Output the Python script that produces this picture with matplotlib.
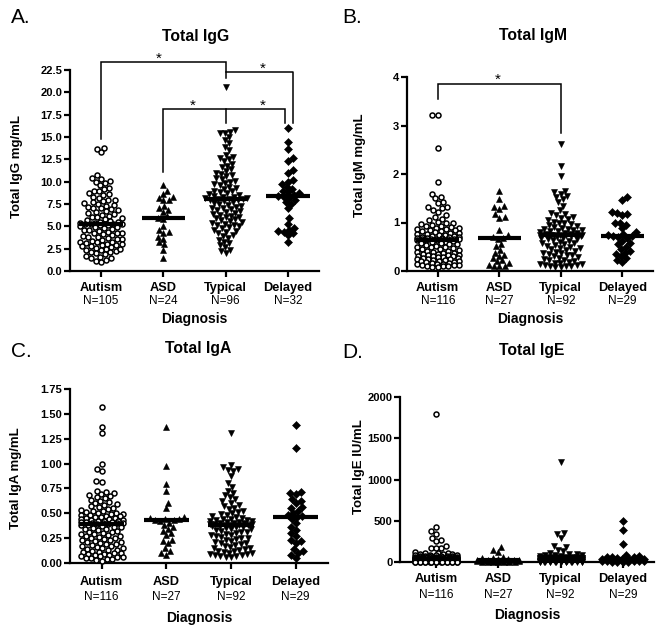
import numpy as np
import matplotlib
matplotlib.use('Agg')
import matplotlib.pyplot as plt

plt.rcParams['font.family'] = ['Liberation Sans', 'DejaVu Sans']

# ---------------- data ----------------
categories = ['Autism', 'ASD', 'Typical', 'Delayed']

igg_n = ['N=105', 'N=24', 'N=96', 'N=32']
igg_autism = [13.8, 13.7, 13.3,
              10.7, 10.4, 10.3, 10.1, 10.0, 9.8, 9.6, 9.3, 9.2, 9.0,
              8.9, 8.7, 8.6, 8.5, 8.3, 8.2, 8.0, 7.9, 7.8, 7.7, 7.6, 7.5, 7.4, 7.3,
              7.2, 7.1, 7.0, 6.9, 6.8, 6.7, 6.6, 6.5, 6.4, 6.3, 6.2, 6.1, 6.0, 5.9,
              5.8, 5.7, 5.6, 5.5, 5.45, 5.4, 5.35, 5.3, 5.3, 5.28, 5.26, 5.25,
              5.2, 5.1, 5.0, 4.9, 4.8, 4.7, 4.6, 4.5, 4.4, 4.3, 4.2, 4.1, 4.0, 3.9,
              3.8, 3.7, 3.6, 3.5, 3.4, 3.3, 3.2, 3.1, 3.0, 4.95, 4.55, 4.25, 3.85,
              3.55, 3.25, 3.05, 2.9, 2.8, 2.7, 2.6, 2.5, 2.4, 2.3, 2.2, 2.1, 2.0,
              2.95, 2.75, 2.45, 2.15, 1.9, 1.7, 1.6, 1.5, 1.4, 1.2, 1.1, 1.0]
igg_asd = [9.6, 9.0, 8.6, 8.3, 8.2, 8.0, 7.9, 7.3, 7.0, 6.8, 6.6, 6.2, 5.9, 5.8,
           5.0, 4.6, 4.4, 4.3, 3.8, 3.6, 3.2, 3.0, 2.4, 1.4]
igg_typical = [20.6, 15.8, 15.6, 15.5, 15.4, 15.0, 14.7, 14.3, 13.9, 13.5, 13.0,
               12.8, 12.7, 12.5, 12.3, 12.0, 11.8, 11.6, 11.4, 11.2, 11.0, 10.9,
               10.7, 10.6, 10.4, 10.3, 10.1, 10.0, 9.8, 9.7, 9.6, 9.4, 9.3, 9.2,
               9.0, 8.9, 8.8, 8.7, 8.6, 8.5, 8.4, 8.3, 8.25, 8.2, 8.15, 8.1, 8.08,
               8.05, 8.0, 7.9, 7.8, 7.7, 7.6, 7.5, 7.4, 7.3, 7.2, 7.1, 7.0, 6.9,
               6.8, 6.7, 6.6, 6.5, 6.4, 6.3, 6.2, 6.1, 6.0, 5.9, 5.8, 5.7, 5.6,
               5.5, 5.4, 5.3, 5.2, 5.1, 5.0, 4.9, 4.8, 4.6, 4.5, 4.4, 4.2, 4.0,
               3.9, 3.7, 3.5, 3.3, 3.1, 2.9, 2.7, 2.4, 2.2, 2.0]
igg_delayed = [16.0, 14.4, 13.7, 12.6, 12.3, 11.3, 11.0, 10.2, 10.0, 9.7, 9.4,
               9.2, 8.9, 8.8, 8.7, 8.5, 8.4, 8.3, 8.2, 7.9, 7.7, 7.5, 7.0, 5.9,
               5.3, 4.8, 4.6, 4.5, 4.4, 4.2, 4.0, 3.3]
igg_medians = [5.25, 5.9, 8.05, 8.35]

igm_n = ['N=116', 'N=27', 'N=92', 'N=29']
igm_autism = [3.22, 3.22, 2.53, 1.83, 1.59, 1.52, 1.50, 1.42, 1.40, 1.32, 1.31,
              1.30, 1.25, 1.22, 1.15, 1.12, 1.08, 1.05, 1.02, 1.0, 0.98, 0.96,
              0.95, 0.93, 0.92, 0.9, 0.89, 0.88, 0.87, 0.86, 0.85, 0.84, 0.83,
              0.82, 0.8, 0.79, 0.78, 0.77, 0.76, 0.75, 0.74, 0.73, 0.72, 0.71,
              0.7, 0.7, 0.69, 0.68, 0.68, 0.67, 0.67, 0.66, 0.66, 0.65, 0.65,
              0.65, 0.64, 0.64, 0.63, 0.62, 0.6, 0.6, 0.58, 0.57, 0.55, 0.55,
              0.53, 0.52, 0.5, 0.5, 0.49, 0.47, 0.46, 0.45, 0.44, 0.42, 0.41,
              0.4, 0.4, 0.38, 0.37, 0.36, 0.35, 0.34, 0.33, 0.32, 0.31, 0.3, 0.3,
              0.29, 0.28, 0.27, 0.26, 0.25, 0.25, 0.24, 0.23, 0.22, 0.21, 0.2,
              0.2, 0.19, 0.18, 0.17, 0.16, 0.15, 0.15, 0.14, 0.13, 0.12, 0.12,
              0.11, 0.1, 0.1, 0.09, 0.08]
igm_asd = [1.65, 1.48, 1.34, 1.31, 1.28, 1.18, 1.12, 1.10, 0.84, 0.74, 0.70,
           0.69, 0.65, 0.56, 0.52, 0.43, 0.38, 0.33, 0.31, 0.27, 0.22, 0.2,
           0.16, 0.12, 0.11, 0.1, 0.1]
igm_typical = [2.62, 2.16, 1.95, 1.65, 1.62, 1.58, 1.55, 1.52, 1.48, 1.42, 1.35,
               1.25, 1.2, 1.18, 1.15, 1.12, 1.1, 1.08, 1.05, 1.02, 1.0, 0.98,
               0.96, 0.94, 0.92, 0.9, 0.89, 0.87, 0.86, 0.85, 0.84, 0.83, 0.82,
               0.8, 0.79, 0.78, 0.77, 0.76, 0.75, 0.75, 0.745, 0.74, 0.74, 0.74,
               0.735, 0.735, 0.73, 0.72, 0.7, 0.69, 0.68, 0.66, 0.65, 0.63, 0.62,
               0.6, 0.58, 0.57, 0.55, 0.53, 0.52, 0.5, 0.48, 0.47, 0.45, 0.43,
               0.42, 0.4, 0.38, 0.37, 0.35, 0.33, 0.32, 0.3, 0.28, 0.27, 0.25,
               0.23, 0.22, 0.2, 0.19, 0.17, 0.16, 0.15, 0.14, 0.13, 0.12, 0.11,
               0.1, 0.1, 0.09, 0.08]
igm_delayed = [1.52, 1.47, 1.22, 1.2, 1.18, 1.15, 1.0, 0.98, 0.95, 0.88, 0.8,
               0.76, 0.74, 0.73, 0.72, 0.7, 0.68, 0.62, 0.58, 0.55, 0.5, 0.46,
               0.42, 0.38, 0.35, 0.3, 0.26, 0.22, 0.18]
igm_medians = [0.64, 0.69, 0.74, 0.72]

iga_n = ['N=116', 'N=27', 'N=92', 'N=29']
iga_autism = [1.57, 1.37, 1.31, 1.0, 0.95, 0.93, 0.82, 0.81, 0.72, 0.71, 0.7,
              0.69, 0.68, 0.67, 0.66, 0.65, 0.63, 0.62, 0.61, 0.6, 0.59, 0.58,
              0.57, 0.56, 0.55, 0.54, 0.53, 0.52, 0.52, 0.51, 0.5, 0.5, 0.49,
              0.49, 0.48, 0.48, 0.47, 0.47, 0.46, 0.46, 0.45, 0.45, 0.44, 0.44,
              0.43, 0.43, 0.42, 0.42, 0.42, 0.41, 0.41, 0.41, 0.4, 0.4, 0.4, 0.4,
              0.39, 0.39, 0.38, 0.38, 0.37, 0.36, 0.36, 0.35, 0.34, 0.34, 0.33,
              0.32, 0.31, 0.31, 0.3, 0.29, 0.29, 0.28, 0.27, 0.27, 0.26, 0.25,
              0.25, 0.24, 0.23, 0.23, 0.22, 0.21, 0.21, 0.2, 0.19, 0.19, 0.18,
              0.17, 0.17, 0.16, 0.15, 0.15, 0.14, 0.13, 0.13, 0.12, 0.11, 0.11,
              0.1, 0.1, 0.09, 0.09, 0.08, 0.08, 0.07, 0.07, 0.06, 0.06, 0.05,
              0.05, 0.04, 0.04, 0.03, 0.02]
iga_asd = [1.37, 0.98, 0.79, 0.72, 0.6, 0.55, 0.46, 0.45, 0.44, 0.44, 0.43,
           0.43, 0.42, 0.4, 0.38, 0.36, 0.34, 0.32, 0.3, 0.28, 0.23, 0.22, 0.2,
           0.15, 0.12, 0.1, 0.08]
iga_typical = [1.31, 0.99, 0.97, 0.95, 0.94, 0.93, 0.88, 0.8, 0.76, 0.72, 0.7,
               0.68, 0.66, 0.64, 0.62, 0.6, 0.58, 0.57, 0.55, 0.54, 0.52, 0.51,
               0.5, 0.49, 0.48, 0.47, 0.46, 0.45, 0.44, 0.44, 0.43, 0.43, 0.42,
               0.42, 0.41, 0.41, 0.4, 0.4, 0.4, 0.39, 0.39, 0.39, 0.385, 0.385,
               0.38, 0.38, 0.37, 0.37, 0.36, 0.36, 0.35, 0.34, 0.34, 0.33, 0.32,
               0.31, 0.31, 0.3, 0.29, 0.28, 0.28, 0.27, 0.26, 0.25, 0.25, 0.24,
               0.23, 0.22, 0.21, 0.2, 0.2, 0.19, 0.18, 0.17, 0.16, 0.15, 0.15,
               0.14, 0.13, 0.12, 0.12, 0.11, 0.1, 0.1, 0.09, 0.09, 0.08, 0.08,
               0.07, 0.07, 0.06, 0.06]
iga_delayed = [1.39, 1.16, 0.71, 0.7, 0.69, 0.64, 0.62, 0.6, 0.56, 0.55, 0.52,
               0.5, 0.48, 0.47, 0.46, 0.44, 0.4, 0.36, 0.33, 0.3, 0.27, 0.23,
               0.22, 0.2, 0.14, 0.12, 0.1, 0.08, 0.05]
iga_medians = [0.39, 0.43, 0.38, 0.46]

ige_n = ['N=116', 'N=27', 'N=92', 'N=29']
ige_autism = [1800, 420, 370, 340, 290, 270, 255, 200, 175, 170, 165, 120, 115,
              110, 105, 100, 96, 92, 88, 85, 82, 80, 78, 76, 74, 72, 70, 68, 66,
              64, 62, 60, 59, 58, 57, 56, 55, 54, 53, 52, 51, 50, 49, 48, 47, 46,
              45, 44, 44, 43, 43, 42, 42, 41, 41, 41, 40, 40, 39, 38, 37, 36, 35,
              34, 33, 32, 31, 30, 29, 28, 27, 26, 25, 24, 23, 22, 21, 20, 19, 18,
              17, 16, 15, 14, 13, 12, 12, 11, 11, 10, 10, 9, 9, 8, 8, 7, 7, 6, 6,
              5, 5, 5, 4, 4, 4, 3, 3, 3, 2, 2, 2, 2, 1, 1, 1, 1]
ige_asd = [182, 140, 125, 60, 50, 45, 40, 35, 30, 28, 25, 22, 20, 18, 16, 14,
           12, 10, 9, 8, 6, 5, 4, 3, 2, 2, 1]
ige_typical = [1215, 350, 340, 295, 200, 185, 150, 130, 110, 100, 95, 90, 85,
               80, 75, 70, 66, 63, 60, 58, 56, 54, 52, 50, 49, 48, 47, 46, 46,
               45, 45, 45, 44, 44, 43, 42, 41, 40, 39, 38, 37, 36, 35, 34, 33, 32,
               31, 30, 29, 28, 27, 26, 25, 24, 23, 22, 21, 20, 19, 18, 17, 16, 15,
               14, 13, 12, 11, 10, 10, 9, 9, 8, 8, 7, 7, 6, 6, 5, 5, 4, 4, 3, 3,
               3, 2, 2, 2, 1, 1, 1, 1, 1]
ige_delayed = [500, 390, 220, 80, 70, 65, 60, 55, 50, 45, 42, 40, 38, 35, 32,
               30, 28, 25, 22, 20, 18, 15, 12, 10, 8, 6, 4, 3, 2]
ige_medians = [40, 20, 45, 40]

# ---------------- layout / style ----------------
W, H = 662, 629
fig = plt.figure(figsize=(W / 100, H / 100), dpi=100)

STYLES = [
    dict(marker='o', ms=3.6, mfc='white', mec='black', mew=1.1),
    dict(marker='^', ms=5.0, mfc='black', mec='black', mew=0.4),
    dict(marker='v', ms=5.0, mfc='black', mec='black', mew=0.4),
    dict(marker='D', ms=3.6, mfc='black', mec='black', mew=0.4),
]


def ftext(x, y, s, **kw):
    kw.setdefault('va', 'baseline')
    return fig.text(x / W, 1 - y / H, s, **kw)


def swarm(ax, xc, values, d=5.4, maxw=21.0):
    """Beeswarm offsets computed in display pixels, returned in data x."""
    vals = np.asarray(values, dtype=float)
    pts = ax.transData.transform(np.column_stack([np.full(len(vals), xc), vals]))
    ys = pts[:, 1]
    order = np.argsort(ys, kind='stable')
    px_l, py_l = [], []
    off = np.zeros(len(vals))
    grid = np.linspace(-maxw, maxw, 43)
    for k, i in enumerate(order):
        y = ys[i]
        px = np.array(px_l)
        py = np.array(py_l)
        if len(px):
            m = np.abs(py - y) < d
            nx, ny = px[m], py[m]
        else:
            nx = ny = np.array([])
        cands = [0.0]
        for a, b in zip(nx, ny):
            dx = np.sqrt(max(d * d - (b - y) ** 2, 0.0)) + 1e-3
            cands += [a + dx, a - dx]
        sign = 1 if k % 2 == 0 else -1
        cands = sorted(set(cands), key=lambda c: (round(abs(c), 3), -sign * c))
        chosen = None
        for c in cands:
            if abs(c) > maxw:
                continue
            if np.all((nx - c) ** 2 + (ny - y) ** 2 >= d * d - 1e-2):
                chosen = c
                break
        if chosen is None:
            cost = np.array([np.sum(np.clip(d - np.hypot(nx - g, ny - y), 0, None))
                             for g in grid])
            idx = np.lexsort((np.abs(grid), np.round(cost, 3)))
            chosen = grid[idx[0]]
        off[i] = chosen
        px_l.append(chosen)
        py_l.append(y)
    data = ax.transData.inverted().transform(np.column_stack([pts[:, 0] + off, ys]))
    return data[:, 0]


def panel(rect, xlim, ylim, yticks, yfmt, groups, medians, nlabels,
          letter, letter_xy, title, title_xy, ylabel, ylabel_xy,
          cat_base, n_base, diag_base):
    left, right, top, bottom = rect
    ax = fig.add_axes([left / W, 1 - bottom / H, (right - left) / W, (bottom - top) / H])
    ax.set_xlim(*xlim)
    ax.set_ylim(*ylim)
    for s in ['top', 'right']:
        ax.spines[s].set_visible(False)
    for s in ['left', 'bottom']:
        ax.spines[s].set_linewidth(1.6)
    ax.set_yticks(yticks)
    ax.set_yticklabels([yfmt.format(t) for t in yticks], fontweight='bold', fontsize=8)
    ax.set_xticks(range(len(categories)))
    ax.set_xticklabels([])
    ax.tick_params(axis='both', width=1.6, length=4, direction='out', pad=1.5)
    for i, vals in enumerate(groups):
        xs = swarm(ax, i, vals)
        ax.plot(xs, vals, linestyle='none', clip_on=False, zorder=3, **STYLES[i])
        ax.hlines(medians[i], i - 0.35, i + 0.35, color='black', lw=3, zorder=4)
    for i, (c, n) in enumerate(zip(categories, nlabels)):
        xp = ax.transData.transform((i, 0))[0]
        ftext(xp, cat_base, c, ha='center', fontsize=9.2, fontweight='bold')
        ftext(xp, n_base, n, ha='center', fontsize=8.5)
    xc = (left + right) / 2
    ftext(xc, diag_base, 'Diagnosis', ha='center', fontsize=10, fontweight='bold')
    ftext(letter_xy[0], letter_xy[1], letter, ha='left', fontsize=15)
    ftext(title_xy[0], title_xy[1], title, ha='center', fontsize=11.3, fontweight='bold')
    ftext(ylabel_xy[0], ylabel_xy[1], ylabel, ha='center', va='center', rotation=90,
          fontsize=9.5, fontweight='bold')
    return ax


def bracket(ax, x0, x1, y, y0_end, y1_end, lw=1.1):
    ax.plot([x0, x0, x1, x1], [y0_end, y, y, y1_end], color='black', lw=lw,
            clip_on=False, solid_joinstyle='miter', zorder=5)


def star(ax, x, y):
    ax.text(x, y, '*', ha='center', va='center', fontsize=11, clip_on=False)


# Panel A
axA = panel((70, 319, 70, 271), (-0.5, 3.5), (0, 22.5),
            [0, 2.5, 5, 7.5, 10, 12.5, 15, 17.5, 20, 22.5], '{:.1f}',
            [igg_autism, igg_asd, igg_typical, igg_delayed], igg_medians, igg_n,
            'A.', (11, 23), 'Total IgG', (196, 41), 'Total IgG mg/mL', (17, 166),
            291, 304, 323)
bracket(axA, 0, 2, 23.4, 14.8, 21.6)
axA.plot([2, 3.08, 3.08], [22.3, 22.3, 16.6], color='black', lw=1.1, clip_on=False, zorder=5)
bracket(axA, 1, 2.95, 18.15, 11.1, 16.6)
axA.plot([2, 2], [18.15, 16.6], color='black', lw=1.1, clip_on=False, zorder=5)
star(axA, 0.93, 23.75)
star(axA, 2.6, 22.65)
star(axA, 1.47, 18.5)
star(axA, 2.6, 18.5)

# Panel B
axB = panel((407, 653, 77, 271), (-0.5, 3.5), (0, 4), [0, 1, 2, 3, 4], '{:.0f}',
            [igm_autism, igm_asd, igm_typical, igm_delayed], igm_medians, igm_n,
            'B.', (342, 23), 'Total IgM', (533, 40), 'Total IgM mg/mL', (360, 165),
            291, 304, 323)
bracket(axB, 0, 2, 3.86, 3.54, 2.85)
star(axB, 0.97, 3.94)

# Panel C
axC = panel((70, 328, 389, 563), (-0.49, 3.5), (0, 1.75),
            [0, 0.25, 0.5, 0.75, 1.0, 1.25, 1.5, 1.75], '{:.2f}',
            [iga_autism, iga_asd, iga_typical, iga_delayed], iga_medians, iga_n,
            'C.', (11, 357), 'Total IgA', (198, 353), 'Total IgA mg/mL', (16, 478),
            585, 600, 622)

# Panel D
axD = panel((400, 654, 397, 562), (-0.58, 3.5), (0, 2000),
            [0, 500, 1000, 1500, 2000], '{:.0f}',
            [ige_autism, ige_asd, ige_typical, ige_delayed], ige_medians, ige_n,
            'D.', (342, 358), 'Total IgE', (532, 355), 'Total IgE IU/mL', (359, 467),
            582, 598, 619)

fig.savefig('out.png', dpi=100)
